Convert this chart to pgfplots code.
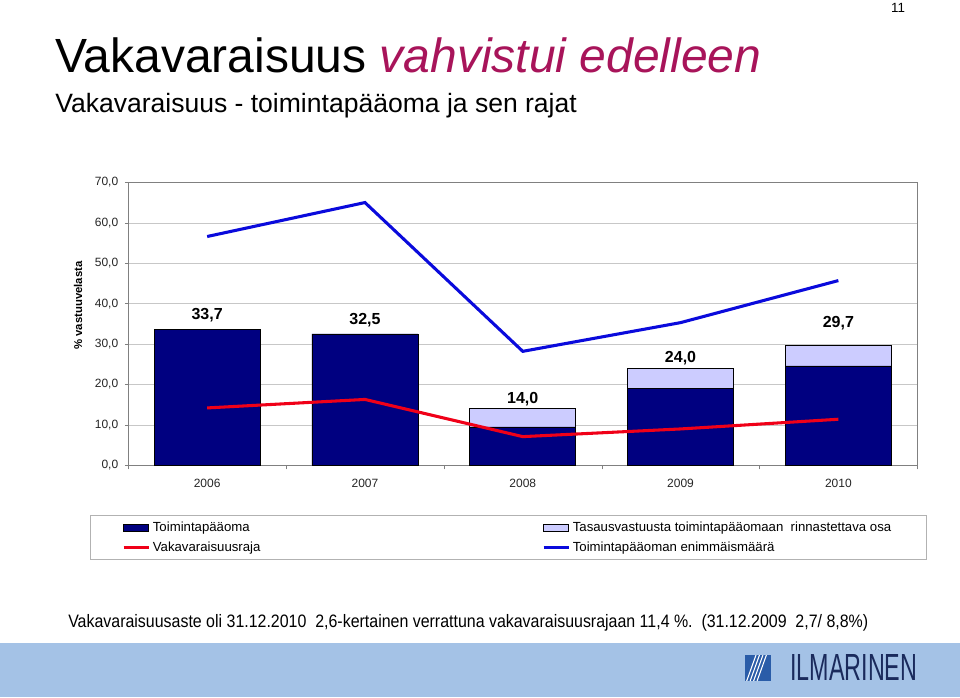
\documentclass[border=0pt]{standalone}
\usepackage{pgfplots}
\pgfplotsset{compat=1.18}
\usepackage{fontspec}
\setmainfont{Liberation Sans}
\usepackage{graphicx}
\definecolor{navy}{HTML}{000080}
\definecolor{lav}{HTML}{CCCCFF}
\definecolor{redl}{HTML}{F00018}
\definecolor{bluel}{HTML}{0A0ADC}
\definecolor{mag}{HTML}{A8145A}
\definecolor{band}{HTML}{A4C2E6}
\definecolor{logob}{HTML}{2A5CA8}
\definecolor{logot}{HTML}{1A2A5C}
\begin{document}
\begin{tikzpicture}
\path[fill=white] (0,0) rectangle (720pt,522.75pt);
\fill[band] (0,0) rectangle (720pt,40.5pt);
% titles
\node[anchor=base west, inner sep=0] at (41.25pt,468.2pt) {\fontsize{36}{40}\selectfont Vakavaraisuus \textcolor{mag}{\itshape vahvistui edelleen}};
\node[anchor=base west, inner sep=0] at (41.25pt,438.5pt) {\fontsize{19.9}{24}\selectfont Vakavaraisuus - toimintapääoma ja sen rajat};
\node[anchor=base, inner sep=0] at (673.5pt,513pt) {\fontsize{10}{12}\selectfont 11};
% y label
\node[rotate=90, inner sep=0] at (58.5pt,293.6pt) {\fontsize{8.5}{10}\selectfont\bfseries \% vastuuvelasta};
% bottom text
\node[anchor=base west, inner sep=0] at (51pt,52.5pt) {\resizebox{600pt}{\height}{\fontsize{13.5}{16}\selectfont Vakavaraisuusaste oli 31.12.2010\ \ 2,6-kertainen verrattuna vakavaraisuusrajaan 11,4 \%.\ \ (31.12.2009\ \ 2,7/ 8,8\%)}};
% logo
\begin{scope}
\clip (558.75pt,12pt) rectangle (578.25pt,31.5pt);
\fill[logob] (558.75pt,12pt) rectangle (578.25pt,31.5pt);
\foreach \i in {0,1,2,3} \draw[white, line width=0.8pt] ({560pt+\i*2.6pt},12pt) -- ({567pt+\i*2.6pt},31.5pt);
\end{scope}
\node[anchor=south west, inner sep=0] at (592.5pt,12pt) {\color{logot}\resizebox{95.25pt}{19.5pt}{ILMARINEN}};

\begin{axis}[
  at={(96.2pt,173.75pt)}, anchor=south west, scale only axis,
  width=591.75pt, height=212.25pt,
  xmin=-0.5, xmax=4.5, ymin=0, ymax=70,
  xtick={0,1,2,3,4}, xticklabels={2006,2007,2008,2009,2010},
  minor xtick={-0.5,0.5,1.5,2.5,3.5,4.5},
  ytick={0,10,...,70},
  tick pos=left,
  /pgf/number format/fixed, /pgf/number format/fixed zerofill,
  /pgf/number format/precision=1, /pgf/number format/use comma,
  /pgf/number format/assume math mode=true,
  ymajorgrids, major grid style={draw=black!22},
  axis line style={draw=black!50},
  tick align=outside, major tick length=2.5pt, minor tick length=3pt,
  major x tick style={draw=none}, minor x tick style={draw=black!50},
  ytick style={draw=black!50},
  tick label style={font=\fontsize{9}{11}\selectfont, text=black!85},
  yticklabel style={xshift=-1.5pt},
  xticklabel style={yshift=-4pt},
  legend columns=2,
  legend cell align=left,
  legend style={at={(-0.0485,-0.1755)}, anchor=north west, draw=black!30,
    inner xsep=24pt, inner ysep=3pt, row sep=2pt,
    font=\fontsize{9.9}{11}\selectfont,
    /tikz/every even column/.append style={column sep=0pt}},
]
\addlegendimage{legend image code/.code={\draw[fill=navy,draw=black,line width=0.4pt] (0pt,-2.6pt) rectangle (18.75pt,2.6pt);}}
\addlegendentry{\makebox[290pt][l]{Toimintapääoma}}
\addlegendimage{legend image code/.code={\draw[fill=lav,draw=black,line width=0.4pt] (0pt,-2.6pt) rectangle (18.75pt,2.6pt);}}
\addlegendentry{Tasausvastuusta toimintapääomaan\ \ rinnastettava osa}
\addlegendimage{legend image code/.code={\draw[redl, line width=2.2pt] (0pt,0pt) -- (18.75pt,0pt);}}
\addlegendentry{Vakavaraisuusraja}
\addlegendimage{legend image code/.code={\draw[bluel, line width=2.2pt] (0pt,0pt) -- (18.75pt,0pt);}}
\addlegendentry{Toimintapääoman enimmäismäärä}

\addplot[ybar, bar width=79.5pt, bar shift=0pt, fill=lav, draw=black, line width=0.5pt, forget plot]
  coordinates {(0,33.7)(1,32.5)(2,14.0)(3,24.0)(4,29.7)};
\addplot[ybar, bar width=79.5pt, bar shift=0pt, fill=navy, draw=black, line width=0.5pt, forget plot]
  coordinates {(0,33.7)(1,32.5)(2,9.5)(3,19.0)(4,24.6)};
\addplot[redl, line width=2.3pt, mark=none, forget plot]
  coordinates {(0,14.2)(1,16.3)(2,7.1)(3,9.0)(4,11.4)};
\addplot[bluel, line width=2.3pt, mark=none, forget plot]
  coordinates {(0,56.6)(1,65.0)(2,28.2)(3,35.3)(4,45.7)};
\addplot[draw=none, mark=none, forget plot, nodes near coords, point meta=explicit symbolic,
  nodes near coords style={font=\fontsize{12}{14}\selectfont\bfseries, anchor=center, inner sep=0pt, text=black}]
  table[meta=label] {
x y label
0 37.2 33,7
1 35.9 32,5
2 16.3 14,0
3 26.6 24,0
4 35.1 29,7
};
\end{axis}
\end{tikzpicture}
\end{document}
